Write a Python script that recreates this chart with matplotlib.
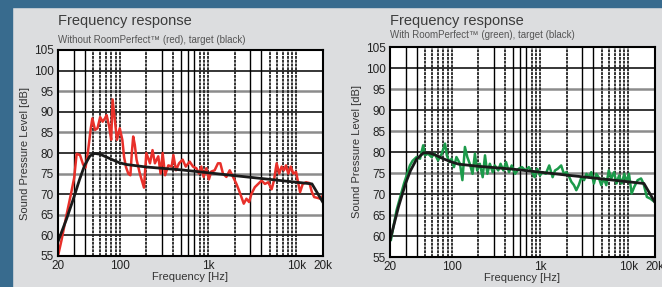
import matplotlib
matplotlib.use('Agg')
import matplotlib.pyplot as plt
from matplotlib.patches import Rectangle

plt.rcParams['font.family'] = ['Liberation Sans', 'DejaVu Sans']

#----------------
#  Chart data
#----------------

# red measurement, without RoomPerfect (left panel)
red_freq = [20, 22, 25, 28, 30.5, 32.5, 35.5, 38.5, 41, 43.5, 47, 49, 52.5, 56,
            60, 64, 68, 71, 76, 80, 83, 88, 93, 100, 107, 112, 118, 125, 132,
            137, 142, 148, 155, 169, 188, 200, 220, 235, 250, 273, 290, 306,
            326, 355, 387, 405, 433, 469, 515, 559, 619, 675, 737, 789, 839,
            891, 955, 1022, 1087, 1186, 1294, 1377, 1474, 1611, 1758, 1918,
            2093, 2241, 2385, 2534, 2719, 2913, 3100, 3384, 3693, 4031, 4400,
            4802, 5240, 5567, 5970, 6390, 6800, 7230, 7620, 8100, 8620, 9240,
            9910, 10530, 11000, 11800, 12880, 14060, 14970, 15900, 17370,
            18640, 20000]
red_db = [55, 59, 65, 70, 74, 79.8, 79.5, 77.2, 76.5, 80, 86, 88.4, 85.6, 86,
          88.7, 87.6, 88.4, 89.2, 86.4, 83.2, 93, 88, 83.2, 86, 83.2, 79, 76.5,
          75, 74.6, 80, 84, 82, 78.4, 75, 71.6, 80, 77.5, 80.7, 77.5, 79.2,
          75, 80, 74.6, 77, 76.7, 79.5, 75.8, 77.5, 78.4, 76.7, 77.9, 76.7,
          76.3, 75, 76.7, 74.2, 76.3, 73.6, 75.5, 75.8, 77.5, 77.5, 75, 74.2,
          75.8, 74.2, 72.5, 70.9, 69.3, 67.7, 68.9, 68.1, 70.1, 71.7, 72.5,
          73.3, 72.5, 72.9, 71.2, 73.3, 77.5, 75, 76.7, 75.8, 77, 75, 76.7,
          75, 75.4, 72.5, 70.5, 72.5, 72.9, 72.7, 70.5, 69.3, 69.1, 68.9, 69.7]

# green measurement, with RoomPerfect (right panel)
green_freq = [20.5, 23.7, 28.8, 33.6, 36, 40, 43.7, 47.5, 49.6, 54, 59, 64, 70,
              77, 84, 88, 94, 99.6, 106, 113, 124, 132, 141, 150, 160, 172,
              183, 194, 208, 224, 238, 253, 270, 291, 307, 336, 357, 384, 412,
              445, 477, 522, 571, 624, 682, 746, 816, 867, 930, 997, 1062,
              1160, 1269, 1387, 1475, 1585, 1733, 1861, 1980, 2100, 2260,
              2420, 2570, 2740, 2940, 3150, 3350, 3560, 3800, 4070, 4330,
              4600, 4930, 5280, 5620, 5990, 6420, 6880, 7340, 7830, 8390,
              8980, 9550, 10150, 10870, 11640, 12720, 13900, 14820, 16180,
              17670, 19290, 20000]
green_db = [59.1, 66.1, 72.5, 76.8, 77.9, 78.8, 78.4, 81.6, 79.2, 79.6, 78.8,
            79.6, 78, 79.6, 82, 79.2, 77.6, 78.4, 76.4, 78.8, 77.2, 73.3, 81.2,
            78.8, 77.2, 74.8, 79.6, 75.6, 77.2, 74, 79.2, 74.8, 77.2, 75.2,
            76.8, 75.6, 77.2, 75.6, 77.6, 75.2, 76.8, 74.8, 76, 76.4, 75.6,
            76.4, 75.2, 74, 76, 74.4, 75.2, 74.8, 76.8, 74, 75.6, 76, 76.8,
            74.8, 75.2, 74.4, 72.9, 72.1, 70.9, 72.1, 74, 73.3, 74.8, 74,
            75.2, 72.5, 74.8, 74, 72.1, 73.7, 72.1, 75.6, 73.7, 75.2, 72.5,
            74.4, 72.5, 74.8, 72.9, 74.8, 70.1, 71.7, 73.3, 73.7, 72.5, 69.3,
            68.9, 68.3, 68.1]

# black target curves
target_left_freq = [20, 25, 30, 35, 40, 46, 52, 60, 80, 100, 120, 200, 500,
                    1000, 2000, 5000, 10000, 15000, 20000]
target_left_db = [58.5, 64, 69, 73.5, 77, 79.3, 79.9, 79.7, 78.5, 77.6, 77.2,
                  76.6, 75.9, 75.2, 74.5, 73.6, 72.9, 72.5, 68]
target_right_freq = [20, 25, 30, 34, 40, 48, 55, 65, 80, 100, 120, 200, 500,
                     1000, 2000, 5000, 10000, 15000, 20000]
target_right_db = [59, 67, 72.5, 75.5, 78.3, 79.8, 79.8, 79.3, 78.4, 77.6,
                   77.1, 76.6, 75.9, 75.2, 74.5, 73.6, 72.9, 72.5, 68]

x_ticks = [20, 100, 1000, 10000, 20000]
x_tick_labels = ['20', '100', '1k', '10k', '20k']
y_ticks = [55, 60, 65, 70, 75, 80, 85, 90, 95, 100, 105]

solid_vlines = [30, 40, 300, 500, 600, 700, 3000, 4000]
dotted_vlines = [50, 60, 70, 80, 90, 100, 200, 400, 800, 900, 1000, 2000,
                 5000, 6000, 7000, 8000, 9000, 10000]

BLUE = '#386b8e'
PANEL = '#dcdddf'
TEXT = '#333333'


def draw_panel(fig, rect, title, subtitle, sub_y, freq, db, color,
               t_freq, t_db):
    """ Draw one frequency response panel """

    ax = fig.add_axes(rect)
    ax.set_facecolor('white')
    ax.set_xscale('log')
    ax.set_xlim(20, 20000)
    ax.set_ylim(55, 105)

    # grid lines
    for v in range(60, 105, 5):
        if v % 10 == 0:
            ax.axhline(v, color='black', lw=1.1, zorder=1)
        else:
            ax.axhline(v, color='#8c8c8c', lw=1.8, zorder=1)
    for f in solid_vlines:
        ax.axvline(f, color='black', lw=1.0, zorder=1)
    for f in dotted_vlines:
        ax.axvline(f, color='#222222', lw=1.3, ls=(0, (1.6, 0.5)), zorder=1)

    ax.plot(freq, db, color=color, lw=1.8, zorder=3, solid_joinstyle='round')
    ax.plot(t_freq, t_db, color='#1a1a1a', lw=2.0, zorder=4)

    ax.set_xticks(x_ticks)
    ax.set_xticklabels(x_tick_labels)
    ax.xaxis.set_minor_locator(matplotlib.ticker.NullLocator())
    ax.set_yticks(y_ticks)
    ax.tick_params(length=0, labelsize=8.5, colors='#222222', pad=3)
    ax.set_xlabel('Frequency [Hz]', fontsize=8, color=TEXT, labelpad=0)
    ax.set_ylabel('Sound Pressure Level [dB]', fontsize=8, color=TEXT,
                  labelpad=3)
    for sp in ax.spines.values():
        sp.set_linewidth(1.5)
        sp.set_color('black')
        sp.set_zorder(5)

    x0 = rect[0]
    fig.text(x0, 0.927, title, fontsize=10.5, color='#3c3c3c', va='center')
    fig.text(x0, sub_y, subtitle, fontsize=7, color='#555555', va='center')
    return ax


def main():
    fig = plt.figure(figsize=(6.62, 2.87), dpi=100)
    fig.patch.set_facecolor(PANEL)

    # blue frame on top and left
    fig.patches.append(Rectangle((0, 1 - 7 / 287), 1, 7 / 287,
                                 transform=fig.transFigure, color=BLUE,
                                 zorder=0))
    fig.patches.append(Rectangle((0, 0), 12 / 662, 1,
                                 transform=fig.transFigure, color=BLUE,
                                 zorder=0))

    draw_panel(fig, [58 / 662, 31 / 287, 265 / 662, 206 / 287],
               'Frequency response',
               'Without RoomPerfect\u2122 (red), target (black)', 0.861,
               red_freq, red_db, '#e8302a', target_left_freq, target_left_db)
    draw_panel(fig, [390 / 662, 30 / 287, 265 / 662, 210 / 287],
               'Frequency response',
               'With RoomPerfect\u2122 (green), target (black)', 0.878,
               green_freq, green_db, '#1c9a4a', target_right_freq,
               target_right_db)

    fig.savefig('out.png', dpi=100, facecolor=PANEL)


if __name__ == '__main__':
    main()
